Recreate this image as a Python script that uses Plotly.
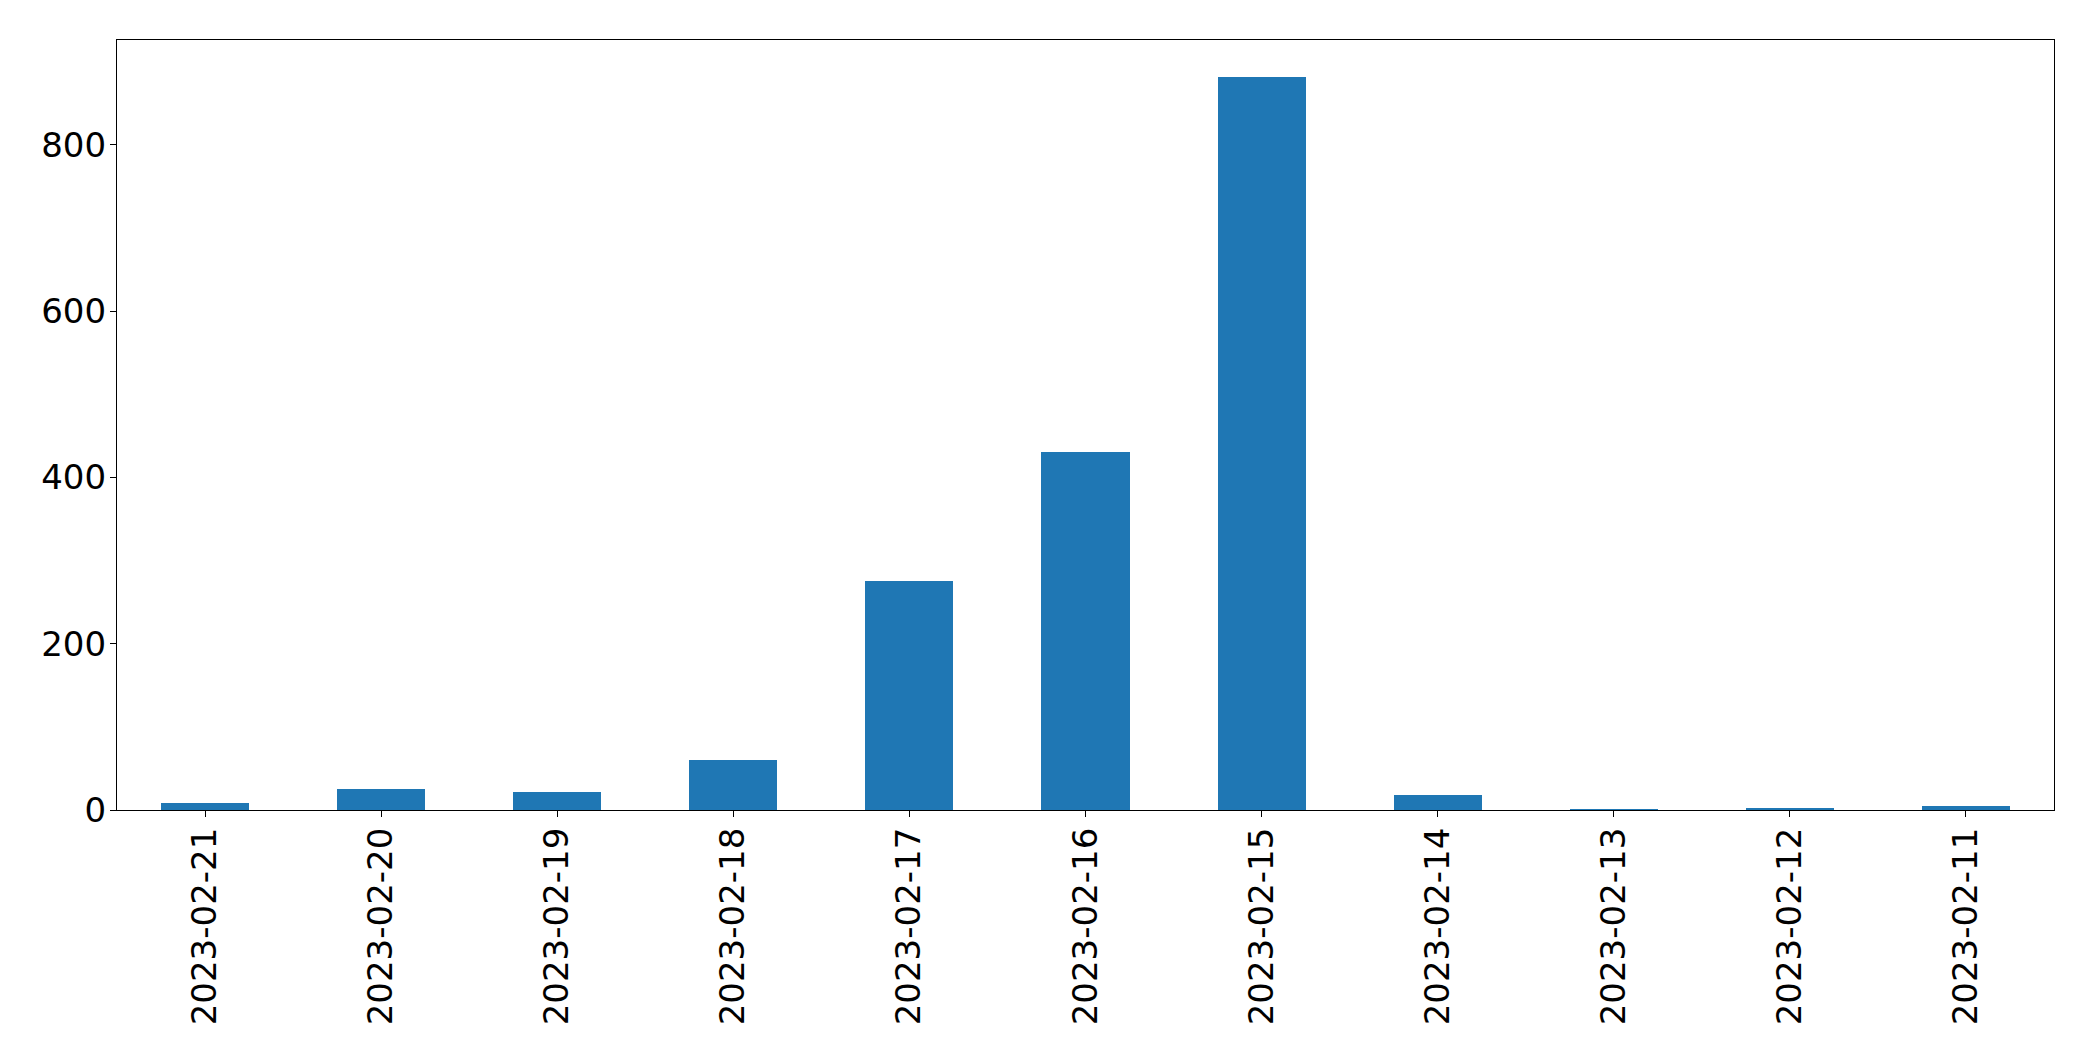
import plotly.graph_objects as go

dates = ["2023-02-21", "2023-02-20", "2023-02-19", "2023-02-18", "2023-02-17",
         "2023-02-16", "2023-02-15", "2023-02-14", "2023-02-13", "2023-02-12", "2023-02-11"]
counts = [8, 25, 22, 60, 276, 430, 882, 18, 1, 2, 5]
y_ticks = [0, 200, 400, 600, 800]

fig = go.Figure(go.Bar(x=dates, y=counts, width=0.5, marker=dict(color="#1f77b4", line=dict(width=0))))

fig.update_layout(
    width=2093, height=1061,
    margin=dict(l=109, r=47, t=32, b=259, autoexpand=False),
    paper_bgcolor="white", plot_bgcolor="white",
    font=dict(family="DejaVu Sans", size=34, color="black"),
    showlegend=False,
    bargap=0,
)
fig.update_xaxes(
    type="category", range=[-0.5, len(dates) - 0.5],
    tickangle=-90, ticks="outside", ticklen=6, tickwidth=1.2, tickcolor="black",
    showline=True, linecolor="black", linewidth=1.2, mirror=True,
    showgrid=False, zeroline=False, ticklabelstandoff=-3,
)
fig.update_yaxes(
    range=[0, max(counts) * 1.05], tickvals=y_ticks, ticktext=[str(v) for v in y_ticks],
    ticks="outside", ticklen=6, tickwidth=1.2, tickcolor="black",
    showline=True, linecolor="black", linewidth=1.2, mirror=True,
    showgrid=False, zeroline=False, ticklabelstandoff=-3,
)

fig.write_html("out.html")
